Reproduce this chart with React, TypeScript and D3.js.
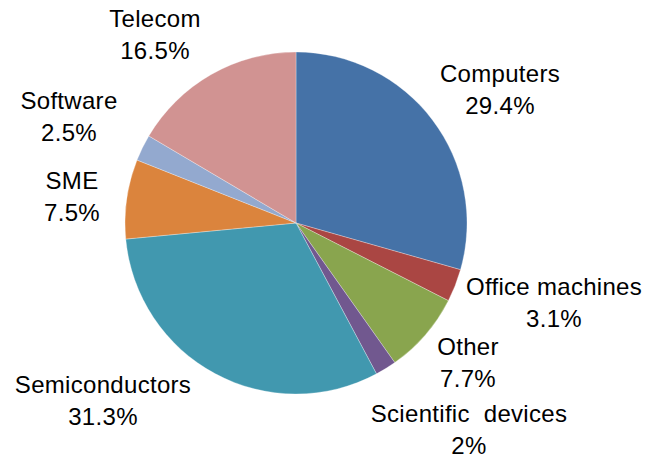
import React from "react";
import * as d3 from "d3";

const categories = [
  "Computers",
  "Office machines",
  "Other",
  "Scientific  devices",
  "Semiconductors",
  "SME",
  "Software",
  "Telecom",
];
const values = [29.4, 3.1, 7.7, 2, 31.3, 7.5, 2.5, 16.5];
const valueLabels = ["29.4%", "3.1%", "7.7%", "2%", "31.3%", "7.5%", "2.5%", "16.5%"];
const colors = ["#4572A7", "#AA4643", "#89A54E", "#71588F", "#4198AF", "#DB843D", "#93A9CF", "#D19392"];

// label layout (text centre x, first baseline y)
const labelLayout: [number, number][] = [
  [500, 82],
  [554, 295],
  [468, 355],
  [469, 422],
  [103, 393],
  [72, 189],
  [69, 109],
  [155, 27],
];

const W = 646;
const H = 461;
const cx = 296;
const cy = 223;
const R = 171;

export default function App() {
  const pie = d3.pie<number>().sort(null).value((d) => d);
  const arcs = pie(values);
  const arc = d3.arc<d3.PieArcDatum<number>>().innerRadius(0).outerRadius(R);
  return (
    <svg
      width={W}
      height={H}
      style={{ position: "absolute", left: 0, top: 0, background: "#fff" }}
      fontFamily="'Liberation Sans', Arial, sans-serif"
    >
      <g transform={`translate(${cx},${cy})`}>
        {arcs.map((a, i) => (
          <path key={i} d={arc(a) || ""} fill={colors[i]} stroke="#fff" strokeWidth={0.3} />
        ))}
      </g>
      {categories.map((c, i) => (
        <text key={i} x={labelLayout[i][0]} y={labelLayout[i][1]} textAnchor="middle" fontSize={24} letterSpacing={0.3} fill="#000" style={{ whiteSpace: "pre" }}>
          <tspan x={labelLayout[i][0]}>{c}</tspan>
          <tspan x={labelLayout[i][0]} dy={32}>{valueLabels[i]}</tspan>
        </text>
      ))}
    </svg>
  );
}
